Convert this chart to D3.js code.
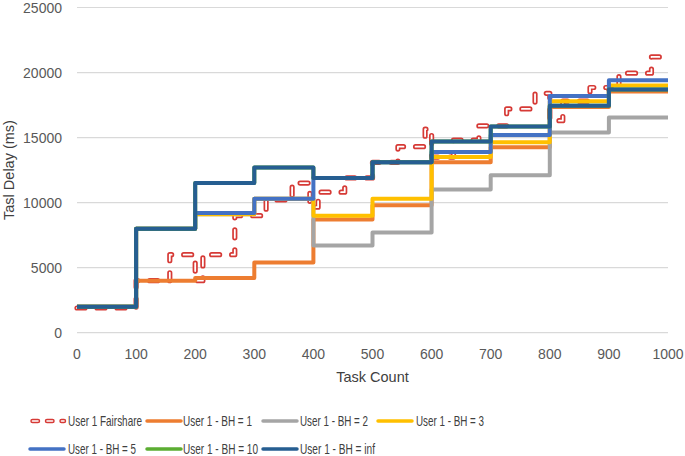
<!DOCTYPE html>
<html>
<head>
<meta charset="utf-8">
<script src="https://cdn.jsdelivr.net/npm/d3@7"></script>
<style>
  html, body { margin: 0; padding: 0; background: #fff; }
  svg { display: block; font-family: "Liberation Sans", Arial, sans-serif; }
</style>
</head>
<body>
<svg id="chart" width="685" height="456"></svg>
<script>
// ---- data ----
const segmentStarts = [0, 100, 200, 300, 400, 500, 600, 700, 800, 900, 1000];
const bh1   = [2000, 4000, 4200, 5400, 8700, 9800, 13100, 14250, 17350, 18550];
const bh2   = [2000, 8000, 9100, 10300, 6700, 7700, 11000, 12100, 15400, 16550];
const bh3   = [2000, 8000, 9100, 10300, 9000, 10300, 13500, 14650, 17800, 19000];
const bh5   = [2000, 8000, 9200, 10300, 11900, 13100, 13900, 15200, 18200, 19400];
const bh10  = [2000, 8000, 11500, 12700, 11900, 13100, 14700, 15850, 17450, 18700];
const bhInf = [2000, 8000, 11500, 12700, 11900, 13100, 14700, 15850, 17450, 18700];

const fairX = [0, 100, 157, 200, 213, 267, 320, 364, 394, 408, 453, 500, 543, 589, 600, 637, 680, 727, 775, 800, 822, 868, 900, 917, 972, 1000];
const fairY = [1900, 4000, 6000, 4000, 6000, 9000, 10200, 11500, 9650, 10800, 11900, 13100, 14300, 15650, 13500, 14800, 15900, 17200, 18400, 16300, 17800, 18850, 18700, 19950, 21200, 21200];

const xTicks = [0, 100, 200, 300, 400, 500, 600, 700, 800, 900, 1000];
const yTicks = [0, 5000, 10000, 15000, 20000, 25000];

const seriesNames = ["User 1 Fairshare", "User 1 - BH = 1", "User 1 - BH = 2", "User 1 - BH = 3",
                     "User 1 - BH = 5", "User 1 - BH = 10", "User 1 - BH = inf"];
const seriesColors = ["#D63A36", "#ED7D31", "#A5A5A5", "#FFC000", "#4472C4", "#5BAD32", "#265E91"];

// ---- layout ----
const svg = d3.select("#chart");
const x = d3.scaleLinear().domain([0, 1000]).range([77, 668]);
const y = d3.scaleLinear().domain([0, 25000]).range([332.7, 7.5]);

// gridlines
svg.append("g").selectAll("line").data(yTicks).join("line")
  .attr("x1", x(0)).attr("x2", x(1000))
  .attr("y1", d => y(d)).attr("y2", d => y(d))
  .attr("stroke", "#D9D9D9").attr("stroke-width", 1.2);

// y tick labels
svg.append("g").selectAll("text").data(yTicks).join("text")
  .attr("x", 62).attr("y", d => y(d)).attr("dy", "0.36em")
  .attr("text-anchor", "end").attr("font-size", 14).attr("fill", "#595959")
  .text(d => d);

// x tick labels
svg.append("g").selectAll("text").data(xTicks).join("text")
  .attr("x", d => x(d)).attr("y", 359)
  .attr("text-anchor", "middle").attr("font-size", 14).attr("fill", "#595959")
  .text(d => d);

// axis titles
svg.append("text").attr("x", x(500)).attr("y", 382)
  .attr("text-anchor", "middle").attr("font-size", 14.5).attr("fill", "#404040")
  .text("Task Count");
svg.append("text")
  .attr("transform", "translate(14,170) rotate(-90)")
  .attr("text-anchor", "middle").attr("font-size", 14.5).attr("fill", "#404040")
  .text("Tasl Delay (ms)");

// ---- lines ----
const line = d3.line().x(d => x(d[0])).y(d => y(d[1])).curve(d3.curveStepAfter);
function stepPts(vals) {
  const pts = vals.map((v, i) => [segmentStarts[i], v]);
  pts.push([segmentStarts[segmentStarts.length - 1], vals[vals.length - 1]]);
  return pts;
}

// fairshare (outlined dashes)
const fairPts = fairX.map((d, i) => [d, fairY[i]]);
const plot = svg.append("g").attr("fill", "none").attr("stroke-linejoin", "round");
plot.append("path").attr("d", line(fairPts))
  .attr("stroke", seriesColors[0]).attr("stroke-width", 5.2)
  .attr("stroke-dasharray", "8,12").attr("stroke-linecap", "round");
plot.append("path").attr("d", line(fairPts))
  .attr("stroke", "#fff").attr("stroke-width", 1.8)
  .attr("stroke-dasharray", "8,12").attr("stroke-linecap", "round");

const bhSeries = [bh1, bh2, bh3, bh5, bh10, bhInf];
bhSeries.forEach((vals, i) => {
  plot.append("path").attr("d", line(stepPts(vals)))
    .attr("stroke", seriesColors[i + 1]).attr("stroke-width", 4)
    .attr("stroke-linecap", "butt");
});

// ---- legend ----
const legendPos = [
  {sx: 30, tx: 68, y: 421, w: 74},
  {sx: 147, tx: 183, y: 421, w: 69},
  {sx: 263, tx: 300, y: 421, w: 68},
  {sx: 378, tx: 416, y: 421, w: 68},
  {sx: 30, tx: 68, y: 449, w: 68},
  {sx: 147, tx: 183, y: 449, w: 75},
  {sx: 263, tx: 300, y: 449, w: 75}
];
const leg = svg.append("g");
seriesNames.forEach((name, i) => {
  const p = legendPos[i];
  if (i === 0) {
    leg.append("line").attr("x1", p.sx + 2.5).attr("x2", p.sx + 34)
      .attr("y1", p.y).attr("y2", p.y)
      .attr("stroke", seriesColors[0]).attr("stroke-width", 4.5)
      .attr("stroke-dasharray", "5.5,9").attr("stroke-linecap", "round");
    leg.append("line").attr("x1", p.sx + 2.5).attr("x2", p.sx + 34)
      .attr("y1", p.y).attr("y2", p.y)
      .attr("stroke", "#fff").attr("stroke-width", 1.6)
      .attr("stroke-dasharray", "5.5,9").attr("stroke-linecap", "round");
  } else {
    leg.append("line").attr("x1", p.sx).attr("x2", p.sx + 34)
      .attr("y1", p.y).attr("y2", p.y)
      .attr("stroke", seriesColors[i]).attr("stroke-width", 3.5)
      .attr("stroke-linecap", "round");
  }
  leg.append("text").attr("x", p.tx).attr("y", p.y).attr("dy", "0.36em")
    .attr("font-size", 14.5).attr("fill", "#404040")
    .attr("textLength", p.w).attr("lengthAdjust", "spacingAndGlyphs")
    .text(name);
});
</script>
</body>
</html>
